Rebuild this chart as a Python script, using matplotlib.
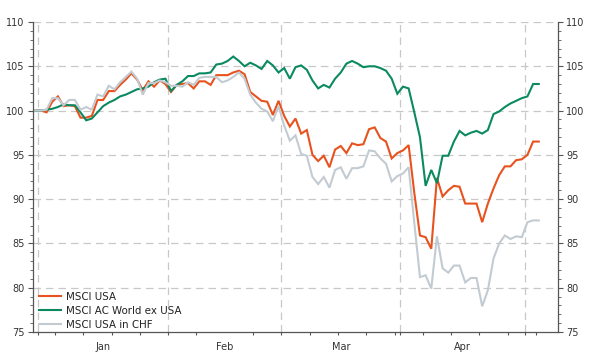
import matplotlib
matplotlib.use("Agg")
import matplotlib.pyplot as plt
import numpy as np
import pandas as pd

plt.rcParams['font.family'] = ['DejaVu Sans']

dates = pd.bdate_range('2024-12-31', periods=90)

msci_usa = [100.0, 100.0, 99.8, 101.0, 101.6, 100.5, 100.6, 100.5, 99.2, 99.2,
            99.4, 101.2, 101.2, 102.2, 102.2, 102.9, 103.5, 104.2, 103.5, 102.3,
            103.3, 102.7, 103.4, 103.0, 102.1, 102.9, 103.0, 103.1, 102.5, 103.3,
            103.3, 102.9, 104.0, 104.0, 104.0, 104.3, 104.5, 104.1, 102.1, 101.6,
            101.1, 101.0, 99.5, 101.1, 99.4, 98.2, 99.1, 97.4, 97.8, 95.0,
            94.3, 94.9, 93.6, 95.6, 96.0, 95.2, 96.3, 96.1, 96.2, 97.9,
            98.1, 96.9, 96.5, 94.6, 95.2, 95.5, 96.1, 90.7, 85.9, 85.7,
            84.4, 92.4, 90.3, 91.0, 91.5, 91.4, 89.5, 89.5, 89.5, 87.4,
            89.5, 91.2, 92.7, 93.7, 93.7, 94.4, 94.5, 95.0, 96.5, 96.5]

msci_acwx = [100.0, 100.0, 100.1, 100.2, 100.4, 100.7, 100.6, 100.6, 99.8, 98.9,
             99.1, 99.8, 100.5, 100.9, 101.2, 101.6, 101.8, 102.1, 102.4, 102.5,
             102.7, 103.2, 103.5, 103.6, 102.2, 102.9, 103.3, 103.9, 103.9, 104.2,
             104.2, 104.3, 105.2, 105.3, 105.6, 106.1, 105.6, 105.0, 105.4, 105.1,
             104.7, 105.6, 105.1, 104.3, 104.8, 103.6, 104.9, 105.1, 104.6, 103.4,
             102.5, 102.9, 102.6, 103.6, 104.3, 105.3, 105.6, 105.3, 104.9, 105.0,
             105.0, 104.8, 104.5, 103.6, 101.9, 102.7, 102.5, 99.8, 97.0, 91.5,
             93.3, 91.8, 94.9, 94.9, 96.5, 97.7, 97.2, 97.5, 97.7, 97.4,
             97.8, 99.6, 99.9, 100.4, 100.8, 101.1, 101.4, 101.6, 103.0, 103.0]

msci_usa_chf = [100.0, 100.0, 100.1, 101.4, 101.4, 100.6, 101.2, 101.2, 100.1, 100.4,
                100.1, 101.8, 101.6, 102.8, 102.4, 103.2, 103.8, 104.4, 103.6, 101.8,
                103.1, 103.1, 103.4, 103.2, 102.8, 102.8, 102.7, 103.2, 102.9, 103.7,
                103.8, 103.8, 103.8, 103.2, 103.4, 103.8, 104.3, 103.6, 101.8, 100.9,
                100.2, 99.9, 98.8, 100.5, 98.3, 96.6, 97.2, 95.1, 94.9, 92.5,
                91.7, 92.5, 91.3, 93.3, 93.6, 92.3, 93.5, 93.5, 93.7, 95.5,
                95.4, 94.6, 94.0, 92.0, 92.6, 92.9, 93.6, 87.3, 81.2, 81.4,
                79.9, 85.8, 82.2, 81.7, 82.5, 82.5, 80.6, 81.1, 81.1, 77.9,
                79.7, 83.3, 85.0, 85.9, 85.5, 85.8, 85.7, 87.4, 87.6, 87.6]

series_names = ['MSCI USA', 'MSCI AC World ex USA', 'MSCI USA in CHF']
series_colors = ['#E8521E', '#0B8A62', '#C3CBD2']
y_ticks = [75, 80, 85, 90, 95, 100, 105, 110]

fig = plt.figure(figsize=(5.92, 3.59), dpi=100)
ax = fig.add_axes([33 / 592, 1 - 332 / 359, (558 - 33) / 592, (332 - 22) / 359])

x = np.arange(len(dates))
for vals, name, col in zip([msci_usa, msci_acwx, msci_usa_chf], series_names, series_colors):
    ax.plot(x, vals, color=col, lw=1.5, label=name, solid_joinstyle='miter', zorder=3)

ax.set_xlim(-0.4, 92.4)
ax.set_ylim(75, 110)

# month boundaries and week boundaries
months = dates.month
month_bounds = [-0.5] + [i - 0.5 for i in range(1, len(dates)) if months[i] != months[i - 1]]
week_bounds = [i - 0.5 for i in range(1, len(dates)) if dates[i].weekday() == 0]
full_bounds = month_bounds[1:]
label_pos = [(a + b) / 2 for a, b in zip(full_bounds[:-1], full_bounds[1:])]
label_txt = [dates[int(np.ceil(a))].strftime('%b') for a in full_bounds[:-1]]

for b in full_bounds:
    ax.axvline(b, color='#C8C8C8', lw=0.9, dashes=(6, 4), zorder=1)
for yv in y_ticks[1:]:
    ax.axhline(yv, color='#C8C8C8', lw=0.9, dashes=(6, 4), zorder=1)

ax.set_xticks(sorted(set(week_bounds + full_bounds)), minor=True)
ax.set_xticks(label_pos)
ax.set_xticklabels(label_txt)
ax.tick_params(axis='x', which='major', length=0, pad=7, labelsize=7, labelcolor='#333333')
ax.tick_params(axis='x', which='minor', length=2.5, width=0.8, color='#555555', direction='out')

ax.set_yticks(y_ticks)
ax.set_yticks(np.arange(75, 111, 1), minor=True)
ax.tick_params(axis='y', which='both', left=True, right=True, labelleft=True, labelright=True,
               color='#555555', direction='out')
ax.tick_params(axis='y', which='major', length=3.5, width=0.8, labelsize=7, labelcolor='#333333', pad=2.5)
ax.tick_params(axis='y', which='minor', length=2, width=0.6)

for s in ['left', 'right', 'bottom']:
    ax.spines[s].set_color('#555555')
    ax.spines[s].set_linewidth(0.9)
ax.spines['top'].set_visible(False)

leg = ax.legend(loc='lower left', frameon=False, fontsize=7.4, handlelength=2.2,
                handletextpad=0.5, labelspacing=0.38, borderaxespad=0.0,
                bbox_to_anchor=(0.003, -0.006))
for t in leg.get_texts():
    t.set_color('#222222')

fig.savefig('out.png', dpi=100)
